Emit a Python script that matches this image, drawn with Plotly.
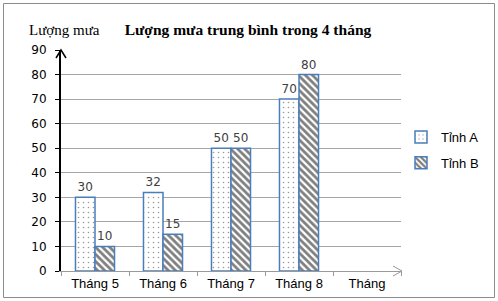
import plotly.graph_objects as go

categories = ["Tháng 5", "Tháng 6", "Tháng 7", "Tháng 8", "Tháng"]
tinh_a = [30, 32, 50, 70, None]
tinh_b = [10, 15, 50, 80, None]
series_names = ["Tỉnh A", "Tỉnh B"]
y_ticks = [0, 10, 20, 30, 40, 50, 60, 70, 80, 90]

W, H = 498, 301
ML, MR, MT, MB = 61, 97, 50, 30
PW, PH = W - ML - MR, H - MT - MB

def px_x(p):  # pixel -> paper x
    return (p - ML) / PW

def px_y(p):  # pixel -> paper y
    return (H - MB - p) / PH

border = "#4a7ebb"
fig = go.Figure()
fig.add_trace(go.Bar(
    x=categories, y=tinh_a, name=series_names[0], legendgroup="a",
    marker=dict(color="white", line=dict(color=border, width=1.5),
                pattern=dict(shape=".", fgcolor="#333333", bgcolor="white", size=5, solidity=0.08)),
    text=[str(v) if v is not None else "" for v in tinh_a], textposition="outside",
    textfont=dict(family="DejaVu Sans", size=12, color="#404040"), cliponaxis=False,
))
fig.add_trace(go.Bar(
    x=categories, y=tinh_b, name=series_names[1], legendgroup="b",
    marker=dict(color="white", line=dict(color=border, width=1.5),
                pattern=dict(shape="\\", fgcolor="black", bgcolor="white", size=5, solidity=0.55)),
    text=[str(v) if v is not None else "" for v in tinh_b], textposition="outside",
    textfont=dict(family="DejaVu Sans", size=12, color="#404040"), cliponaxis=False,
))

fig.update_layout(
    width=W, height=H, margin=dict(l=ML, r=MR, t=MT, b=MB, autoexpand=False),
    paper_bgcolor="white", plot_bgcolor="white",
    barmode="group", bargap=0.426, bargroupgap=0,
    title=dict(text="<b>Lượng mưa trung bình trong 4 tháng</b>", x=248 / W, xanchor="center",
               y=1 - 30 / H, yanchor="middle", xref="container", yref="container",
               font=dict(family="Liberation Serif", size=15.5, color="black")),
    legend=dict(x=px_x(401), y=px_y(150), xanchor="left", yanchor="middle",
                font=dict(family="Liberation Sans", size=13, color="black"),
                itemwidth=30, tracegroupgap=6, bgcolor="rgba(0,0,0,0)"),
    showlegend=True,
    font=dict(family="Liberation Sans"),
)
fig.update_xaxes(
    categoryorder="array", categoryarray=categories, range=[-0.5, 4.5],
    showline=True, linecolor="#999999", linewidth=1,
    ticks="outside", tickson="boundaries", ticklen=4, tickcolor="#999999",
    showgrid=False, tickfont=dict(family="Liberation Sans", size=13, color="black"),
    fixedrange=True,
)
fig.update_yaxes(
    range=[0, 90], tickvals=y_ticks, showgrid=True, gridcolor="#a6a6a6", gridwidth=1,
    showline=True, linecolor="black", linewidth=2,
    ticks="outside", ticklen=4, tickcolor="black", ticklabelstandoff=6,
    tickfont=dict(family="DejaVu Sans", size=12, color="black"), zeroline=False,
)

# y-axis arrow (open chevron)
fig.add_shape(type="path", xref="paper", yref="paper",
              path=f"M {px_x(56)},{px_y(58)} L 0,1 L {px_x(66)},{px_y(58)}",
              line=dict(color="black", width=1.5))
# x-axis arrow
fig.add_shape(type="line", xref="paper", yref="paper", x0=1, y0=0, x1=px_x(402), y1=0,
              line=dict(color="#999999", width=1))
fig.add_shape(type="path", xref="paper", yref="paper",
              path=f"M {px_x(393)},{px_y(266)} L {px_x(402)},0 L {px_x(393)},{px_y(276)}",
              line=dict(color="#999999", width=1))
# outer border
fig.add_shape(type="rect", xref="paper", yref="paper",
              x0=px_x(3.5), y0=px_y(297.5), x1=px_x(494.5), y1=px_y(3.5),
              line=dict(color="#8c8c8c", width=1), layer="below")
# y-axis title text
fig.add_annotation(text="Lượng mưa", xref="paper", yref="paper", x=px_x(64), y=px_y(30),
                   xanchor="center", yanchor="middle", showarrow=False,
                   font=dict(family="Liberation Serif", size=15, color="black"))

fig.write_html("out.html")
